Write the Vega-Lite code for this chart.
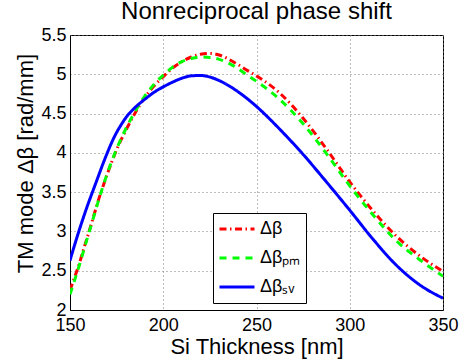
{
  "$schema": "https://vega.github.io/schema/vega-lite/v6.json",
  "autosize": "none",
  "width": 373,
  "height": 275,
  "padding": {"left": 70, "top": 35, "right": 16, "bottom": 54},
  "background": "white",
  "title": {"text": "Nonreciprocal phase shift", "fontSize": 24, "font": "Liberation Sans", "fontWeight": "normal", "anchor": "middle", "baseline": "alphabetic", "offset": -10, "dy": 7, "color": "black"},
  "datasets": {
    "curves": [
      {"x":150,"s":"Δβ","v":2.25},{"x":152.5,"s":"Δβ","v":2.42},{"x":155,"s":"Δβ","v":2.59},{"x":157.5,"s":"Δβ","v":2.79},{"x":160,"s":"Δβ","v":2.98},{"x":162.5,"s":"Δβ","v":3.18},{"x":165,"s":"Δβ","v":3.38},{"x":167.5,"s":"Δβ","v":3.56},{"x":170,"s":"Δβ","v":3.73},{"x":175,"s":"Δβ","v":4.04},{"x":180,"s":"Δβ","v":4.29},{"x":185,"s":"Δβ","v":4.51},{"x":190,"s":"Δβ","v":4.70},{"x":195,"s":"Δβ","v":4.85},{"x":200,"s":"Δβ","v":4.97},{"x":205,"s":"Δβ","v":5.08},{"x":210,"s":"Δβ","v":5.16},{"x":215,"s":"Δβ","v":5.22},{"x":220,"s":"Δβ","v":5.255},{"x":225,"s":"Δβ","v":5.265},{"x":230,"s":"Δβ","v":5.245},{"x":237.5,"s":"Δβ","v":5.16},{"x":245,"s":"Δβ","v":5.05},{"x":250,"s":"Δβ","v":4.98},{"x":262.5,"s":"Δβ","v":4.76},{"x":275,"s":"Δβ","v":4.44},{"x":287.5,"s":"Δβ","v":4.05},{"x":300,"s":"Δβ","v":3.63},{"x":312.5,"s":"Δβ","v":3.26},{"x":325,"s":"Δβ","v":2.94},{"x":337.5,"s":"Δβ","v":2.69},{"x":350,"s":"Δβ","v":2.49},
      {"x":150,"s":"Δβₚₘ","v":2.20},{"x":152.5,"s":"Δβₚₘ","v":2.38},{"x":155,"s":"Δβₚₘ","v":2.57},{"x":157.5,"s":"Δβₚₘ","v":2.77},{"x":160,"s":"Δβₚₘ","v":2.97},{"x":162.5,"s":"Δβₚₘ","v":3.17},{"x":165,"s":"Δβₚₘ","v":3.37},{"x":167.5,"s":"Δβₚₘ","v":3.56},{"x":170,"s":"Δβₚₘ","v":3.74},{"x":175,"s":"Δβₚₘ","v":4.05},{"x":180,"s":"Δβₚₘ","v":4.31},{"x":185,"s":"Δβₚₘ","v":4.53},{"x":190,"s":"Δβₚₘ","v":4.72},{"x":195,"s":"Δβₚₘ","v":4.87},{"x":200,"s":"Δβₚₘ","v":4.99},{"x":205,"s":"Δβₚₘ","v":5.09},{"x":210,"s":"Δβₚₘ","v":5.16},{"x":215,"s":"Δβₚₘ","v":5.20},{"x":220,"s":"Δβₚₘ","v":5.22},{"x":225,"s":"Δβₚₘ","v":5.215},{"x":230,"s":"Δβₚₘ","v":5.19},{"x":237.5,"s":"Δβₚₘ","v":5.11},{"x":245,"s":"Δβₚₘ","v":4.99},{"x":250,"s":"Δβₚₘ","v":4.91},{"x":262.5,"s":"Δβₚₘ","v":4.68},{"x":275,"s":"Δβₚₘ","v":4.37},{"x":287.5,"s":"Δβₚₘ","v":3.99},{"x":300,"s":"Δβₚₘ","v":3.58},{"x":312.5,"s":"Δβₚₘ","v":3.21},{"x":325,"s":"Δβₚₘ","v":2.88},{"x":337.5,"s":"Δβₚₘ","v":2.64},{"x":350,"s":"Δβₚₘ","v":2.43},
      {"x":150,"s":"Δβₛᵥ","v":2.63},{"x":152.5,"s":"Δβₛᵥ","v":2.83},{"x":155,"s":"Δβₛᵥ","v":3.02},{"x":157.5,"s":"Δβₛᵥ","v":3.20},{"x":160,"s":"Δβₛᵥ","v":3.37},{"x":162.5,"s":"Δβₛᵥ","v":3.53},{"x":165,"s":"Δβₛᵥ","v":3.69},{"x":167.5,"s":"Δβₛᵥ","v":3.85},{"x":170,"s":"Δβₛᵥ","v":4.00},{"x":172.5,"s":"Δβₛᵥ","v":4.14},{"x":175,"s":"Δβₛᵥ","v":4.26},{"x":177.5,"s":"Δβₛᵥ","v":4.36},{"x":180,"s":"Δβₛᵥ","v":4.45},{"x":182.5,"s":"Δβₛᵥ","v":4.52},{"x":185,"s":"Δβₛᵥ","v":4.58},{"x":190,"s":"Δβₛᵥ","v":4.68},{"x":195,"s":"Δβₛᵥ","v":4.77},{"x":200,"s":"Δβₛᵥ","v":4.84},{"x":205,"s":"Δβₛᵥ","v":4.90},{"x":210,"s":"Δβₛᵥ","v":4.95},{"x":215,"s":"Δβₛᵥ","v":4.98},{"x":220,"s":"Δβₛᵥ","v":4.985},{"x":225,"s":"Δβₛᵥ","v":4.965},{"x":230,"s":"Δβₛᵥ","v":4.92},{"x":237.5,"s":"Δβₛᵥ","v":4.82},{"x":245,"s":"Δβₛᵥ","v":4.69},{"x":250,"s":"Δβₛᵥ","v":4.59},{"x":262.5,"s":"Δβₛᵥ","v":4.30},{"x":275,"s":"Δβₛᵥ","v":3.98},{"x":287.5,"s":"Δβₛᵥ","v":3.63},{"x":300,"s":"Δβₛᵥ","v":3.27},{"x":312.5,"s":"Δβₛᵥ","v":2.90},{"x":325,"s":"Δβₛᵥ","v":2.57},{"x":337.5,"s":"Δβₛᵥ","v":2.32},{"x":350,"s":"Δβₛᵥ","v":2.15}
    ]
  },
  "data": {"name": "curves"},
  "mark": {"type": "line", "strokeWidth": 3, "interpolate": "monotone", "clip": true},
  "encoding": {
    "x": {
      "field": "x", "type": "quantitative",
      "scale": {"domain": [150, 350], "nice": false, "zero": false},
      "axis": {"title": "Si Thickness [nm]", "values": [150, 200, 250, 300, 350], "titleY": 43, "titleBaseline": "alphabetic", "labelPadding": 6}
    },
    "y": {
      "field": "v", "type": "quantitative",
      "scale": {"domain": [2, 5.5], "nice": false, "zero": false},
      "axis": {"title": "TM mode Δβ [rad/mm]", "values": [2, 2.5, 3, 3.5, 4, 4.5, 5, 5.5], "format": "~g", "titleX": -38, "titleY": 128, "titleBaseline": "alphabetic", "titleAngle": -90, "titleAlign": "center", "labelPadding": 4}
    },
    "color": {
      "field": "s", "type": "nominal",
      "scale": {"domain": ["Δβ", "Δβₚₘ", "Δβₛᵥ"], "range": ["#ff0000", "#00ff00", "#0000ff"]},
      "legend": {"title": null}
    },
    "strokeDash": {
      "field": "s", "type": "nominal",
      "scale": {"domain": ["Δβ", "Δβₚₘ", "Δβₛᵥ"], "range": [[7, 3.5, 1.5, 3.5], [7, 6], [1, 0]]},
      "legend": {"title": null}
    },
    "order": {"field": "s"}
  },
  "config": {
    "font": "Liberation Sans",
    "view": {"stroke": "black", "strokeWidth": 1},
    "axis": {
      "labelFont": "Liberation Sans", "labelFontSize": 18, "labelColor": "black",
      "titleFont": "Liberation Sans", "titleFontSize": 22, "titleFontWeight": "normal", "titleColor": "black",
      "domainColor": "black", "domainWidth": 1,
      "ticks": false, "tickSize": 0,
      "grid": true, "gridColor": "#7a7a7a", "gridDash": [1, 3], "gridWidth": 1, "gridOpacity": 1,
      "labelFlush": false, "labelOverlap": false
    },
    "legend": {
      "orient": "none", "legendX": 143, "legendY": 178,
      "strokeColor": "black", "fillColor": "white", "padding": 5, "clipHeight": 22,
      "rowPadding": 7, "symbolType": "stroke", "symbolSize": 1225, "symbolStrokeWidth": 3,
      "labelFont": "Liberation Sans", "labelFontSize": 18, "labelColor": "black", "labelOffset": 4
    }
  }
}
